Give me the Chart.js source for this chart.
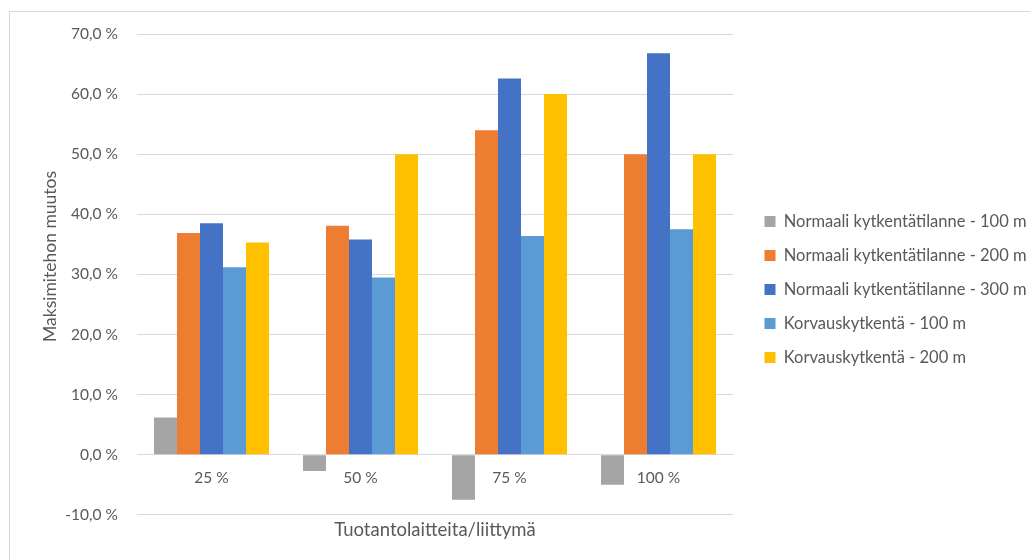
<!DOCTYPE html>
<html>
<head>
<meta charset="utf-8">
<script src="https://cdn.jsdelivr.net/npm/chart.js@4/dist/chart.umd.min.js"></script>
<style>
  html, body { margin: 0; padding: 0; background: #fff; overflow: hidden; }
  #wrap { position: relative; width: 1030px; height: 560px; overflow: hidden; }
  #frame { position: absolute; left: 9px; top: 11px; width: 1100px; height: 700px;
           border: 1px solid #d9d9d9; box-sizing: border-box; }
  #chart { position: absolute; left: 0; top: 0; }
</style>
</head>
<body>
<div id="wrap">
  <div id="frame"></div>
  <canvas id="chart" width="1030" height="560"></canvas>
</div>
<script>
// Tuotantolaitteita per liittymä
const categories = ['25 %', '50 %', '75 %', '100 %'];

// Maksimitehon muutos (%) per series
const normaali100 = [6.2, -2.7, -7.5, -5.0];
const normaali200 = [36.9, 38.1, 54.0, 50.0];
const normaali300 = [38.5, 35.8, 62.6, 66.8];
const korvaus100  = [31.2, 29.5, 36.4, 37.5];
const korvaus200  = [35.3, 50.0, 60.0, 50.0];

const seriesNames = [
  'Normaali kytkentätilanne - 100 m',
  'Normaali kytkentätilanne - 200 m',
  'Normaali kytkentätilanne - 300 m',
  'Korvauskytkentä - 100 m',
  'Korvauskytkentä - 200 m'
];
const seriesColors = ['#A5A5A5', '#ED7D31', '#4472C4', '#5B9BD5', '#FFC000'];
const seriesValues = [normaali100, normaali200, normaali300, korvaus100, korvaus200];

const yMin = -10, yMax = 70, yStep = 10;
const yTitle = 'Maksimitehon muutos';
const xTitle = 'Tuotantolaitteita/liittymä';

const FONT = 'Lato, "Open Sans", sans-serif';
const TEXT = '#595959';
const GRID = '#d9d9d9';
const LEGEND_WIDTH = 283;
const Y_TITLE_SHIFT = -18;

function fmtPct(v) {
  return v.toFixed(1).replace('.', ',') + ' %';
}

// Keep the legend column at a fixed width so long labels stay on one line
const legendWidthPlugin = {
  id: 'legendWidth',
  afterInit(chart) {
    const legend = chart.legend;
    if (!legend) return;
    const fit = legend.fit;
    legend.fit = function () {
      fit.call(this);
      this.width = LEGEND_WIDTH;
    };
  }
};

// Lift the value-axis title slightly above the plot's vertical centre
const yTitleShiftPlugin = {
  id: 'yTitleShift',
  afterLayout(chart) {
    const s = chart.scales.y;
    if (!s || s._titleShifted) return;
    const draw = s.drawTitle;
    s.drawTitle = function () {
      this.ctx.save();
      this.ctx.translate(0, Y_TITLE_SHIFT);
      draw.call(this);
      this.ctx.restore();
    };
    s._titleShifted = true;
  }
};

new Chart(document.getElementById('chart'), {
  type: 'bar',
  data: {
    labels: categories,
    datasets: seriesValues.map((vals, i) => ({
      label: seriesNames[i],
      data: vals,
      backgroundColor: seriesColors[i],
      borderWidth: 0,
      categoryPercentage: 0.772,
      barPercentage: 1.0,
      xAxisID: 'x',
      yAxisID: 'y'
    }))
  },
  plugins: [legendWidthPlugin, yTitleShiftPlugin],
  options: {
    responsive: false,
    devicePixelRatio: 1,
    animation: false,
    layout: { padding: { left: 30, top: 34, right: 0, bottom: 15 } },
    plugins: {
      tooltip: { enabled: false },
      legend: {
        position: 'right',
        align: 'center',
        labels: {
          boxWidth: 11,
          boxHeight: 11,
          padding: 17.5,
          color: TEXT,
          font: { family: FONT, size: 16.5 }
        }
      }
    },
    scales: {
      y: {
        position: 'left',
        min: yMin,
        max: yMax,
        ticks: {
          stepSize: yStep,
          padding: 19,
          color: TEXT,
          font: { family: FONT, size: 15.5 },
          callback: (v) => fmtPct(v)
        },
        grid: { color: GRID, lineWidth: 1, drawTicks: false },
        border: { display: false },
        title: {
          display: true,
          text: yTitle,
          color: TEXT,
          font: { family: FONT, size: 17.5 },
          padding: { top: 10, bottom: 0 }
        },
        afterFit: (s) => { s.width = 107; }
      },
      gap: {
        type: 'linear',
        position: 'right',
        display: true,
        grid: { display: false, drawTicks: false },
        ticks: { display: false },
        border: { display: false },
        afterFit: (s) => { s.width = 14; }
      },
      x: {
        type: 'category',
        position: { y: 0 },
        offset: true,
        grid: { display: false, drawTicks: false },
        border: { display: true, color: GRID, width: 1 },
        ticks: {
          padding: 14,
          color: TEXT,
          font: { family: FONT, size: 15.5 }
        }
      },
      x2: {
        type: 'category',
        labels: categories,
        position: 'bottom',
        display: true,
        grid: { display: false, drawTicks: false },
        border: { display: false },
        ticks: { display: false },
        title: {
          display: true,
          text: xTitle,
          color: TEXT,
          font: { family: FONT, size: 18.5 },
          padding: { top: 4, bottom: 4 }
        }
      }
    }
  }
});
</script>
</body>
</html>
